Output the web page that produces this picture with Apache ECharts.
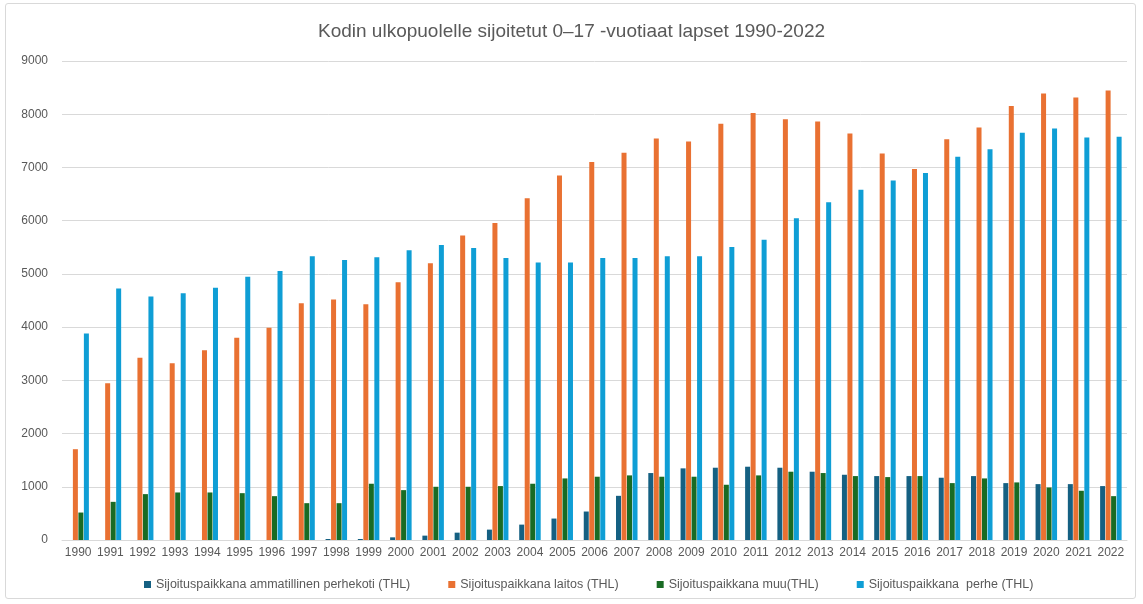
<!DOCTYPE html>
<html>
<head>
<meta charset="utf-8">
<script src="https://cdn.jsdelivr.net/npm/echarts@6/dist/echarts.min.js"></script>
<style>
html,body{margin:0;padding:0;background:#fff;}
#frame{position:absolute;left:5px;top:3px;width:1131px;height:596px;border:1px solid #d9d9d9;border-radius:3px;box-sizing:border-box;}
#chart{position:absolute;left:0;top:0;width:1143px;height:604px;}
</style>
</head>
<body>
<div id="frame"></div>
<div id="chart"></div>
<script>
const years = ['1990','1991','1992','1993','1994','1995','1996','1997','1998','1999','2000','2001','2002','2003','2004','2005','2006','2007','2008','2009','2010','2011','2012','2013','2014','2015','2016','2017','2018','2019','2020','2021','2022'];
const ammatillinen = [0,0,0,0,0,0,0,0,19,19,50,82,138,195,289,403,535,830,1258,1346,1358,1377,1358,1283,1226,1201,1201,1170,1201,1069,1050,1050,1013];
const laitos = [1706,2944,3425,3319,3563,3800,3988,4450,4519,4431,4844,5200,5719,5956,6419,6850,7100,7275,7544,7488,7819,8025,7906,7862,7637,7262,6969,7531,7750,8156,8388,8313,8444];
const muu = [516,717,862,893,893,880,824,692,692,1057,937,1000,1000,1013,1057,1157,1189,1214,1189,1189,1038,1214,1283,1258,1201,1182,1201,1069,1157,1082,987,925,824];
const perhe = [3881,4725,4575,4638,4738,4944,5056,5331,5263,5313,5444,5544,5488,5300,5212,5212,5300,5300,5331,5331,5506,5640,6044,6344,6581,6756,6894,7200,7344,7650,7731,7563,7575];
const seriesNames = ['Sijoituspaikkana ammatillinen perhekoti (THL)','Sijoituspaikkana laitos (THL)','Sijoituspaikkana muu(THL)','Sijoituspaikkana  perhe (THL)'];
const colors = ['#156082','#E97132','#196B24','#0F9ED5'];
const FONT = '"Liberation Sans", Arial, sans-serif';

const chart = echarts.init(document.getElementById('chart'));
const data = [ammatillinen, laitos, muu, perhe];
chart.setOption({
  animation: false,
  color: colors,
  textStyle: {fontFamily: FONT},
  title: {
    text: 'Kodin ulkopuolelle sijoitetut 0–17 -vuotiaat lapset 1990-2022',
    left: 'center', top: 17,
    textStyle: {fontFamily: FONT, fontSize: 19, fontWeight: 'normal', color: '#595959'}
  },
  legend: {
    bottom: 8, left: 139, itemWidth: 7, itemHeight: 7, itemGap: 38,
    icon: 'rect',
    textStyle: {fontFamily: FONT, fontSize: 12.5, color: '#595959'},
    data: seriesNames
  },
  grid: {left: 62, right: 16, top: 61, bottom: 64},
  xAxis: {
    type: 'category', data: years,
    axisLine: {lineStyle: {color: '#d9d9d9'}},
    axisTick: {show: false},
    axisLabel: {color: '#595959', fontSize: 12, fontFamily: FONT, margin: 7, interval: 0}
  },
  yAxis: {
    type: 'value', min: 0, max: 9000, interval: 1000,
    axisLine: {show: false}, axisTick: {show: false},
    axisLabel: {color: '#595959', fontSize: 12, fontFamily: FONT, margin: 14, formatter: v => String(v)},
    splitLine: {lineStyle: {color: '#d9d9d9', width: 1}}
  },
  series: data.map((d, i) => ({
    name: seriesNames[i], type: 'bar', data: d,
    barWidth: 5, barGap: '10%'
  }))
});
</script>
</body>
</html>
